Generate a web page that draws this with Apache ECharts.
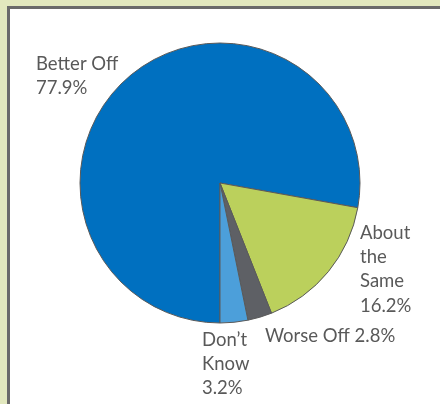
<!DOCTYPE html>
<html><head><meta charset="utf-8">
<script src="https://cdn.jsdelivr.net/npm/echarts@6/dist/echarts.min.js"></script>
<style>html,body{margin:0;padding:0;background:#E2E8BE;}#c{width:440px;height:404px;}</style>
</head><body><div id="c"></div>
<script>
var categories = ["Better Off", "About the Same", "Worse Off", "Don\u2019t Know"];
var values = [77.9, 16.2, 2.8, 3.2];
var labelTexts = ["Better Off\n77.9%", "About\nthe\nSame\n16.2%", "Worse Off 2.8%", "Don\u2019t\nKnow\n3.2%"];
var colors = ["#0070C0", "#BBD05C", "#5E6065", "#4C9FDA"];
var labelPos = [[36, 52], [360, 221], [265, 324], [202, 328]];

var chart = echarts.init(document.getElementById('c'), null, {renderer: 'canvas'});
chart.setOption({
  backgroundColor: '#E2E8BE',
  animation: false,
  graphic: [{
    type: 'rect', z: -1,
    shape: {x: 8.5, y: 7.5, width: 600, height: 600},
    style: {fill: '#ffffff', stroke: '#6A6A6A', lineWidth: 3}
  }],
  series: [{
    type: 'pie',
    center: [220, 183],
    radius: 140,
    startAngle: -90,
    clockwise: true,
    data: categories.map(function (c, i) {
      return {name: c, value: values[i], itemStyle: {color: colors[i]}};
    }),
    itemStyle: {borderColor: '#5A5A5A', borderWidth: 1},
    label: {
      show: true,
      position: 'outside',
      alignTo: 'none',
      overflow: 'none',
      formatter: function (p) { return labelTexts[p.dataIndex]; },
      color: '#595959',
      fontFamily: 'Lato',
      fontSize: 18.5,
      lineHeight: 24.2
    },
    labelLine: {show: false},
    labelLayout: function (p) {
      var pos = labelPos[p.dataIndex];
      return {x: pos[0], y: pos[1], align: 'left', verticalAlign: 'top', width: 200};
    }
  }]
});
</script></body></html>
